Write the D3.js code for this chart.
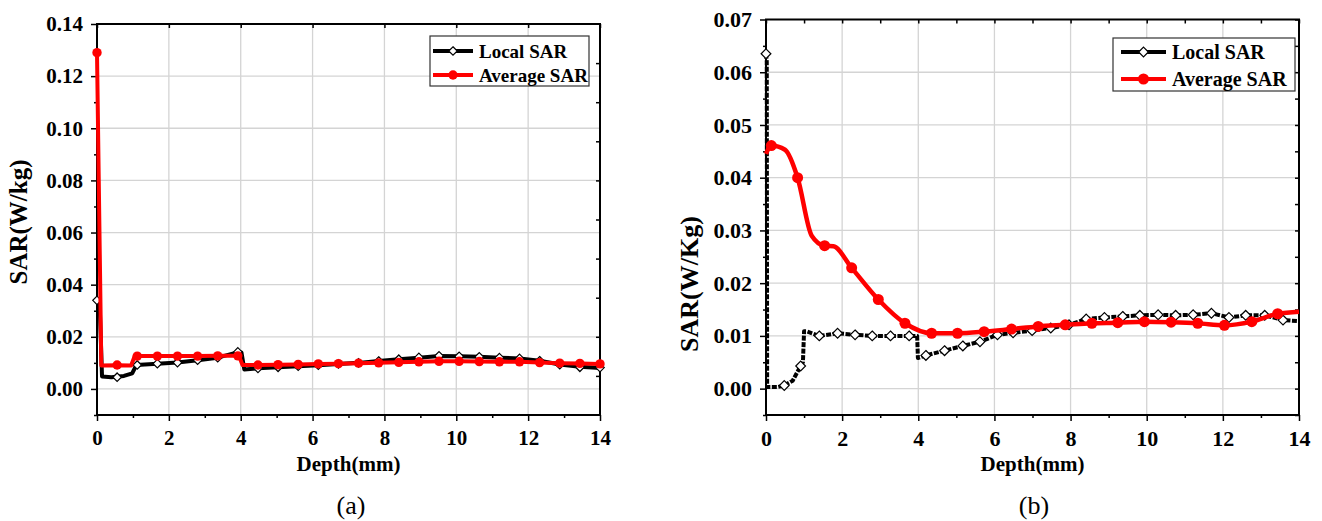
<!DOCTYPE html>
<html>
<head>
<meta charset="utf-8">
<script src="https://cdn.jsdelivr.net/npm/d3@7"></script>
<style>
body { margin: 0; background: #fff; }
text { font-family: "Liberation Serif", "Times New Roman", serif; }
</style>
</head>
<body>
<svg id="chart" width="1322" height="521"></svg>
<script>
'use strict';

/* global d3 */

// ---- data : panel (a) ----
var localDepthA = [0, 0.08, 0.14, 0.4, 0.75, 0.98, 1.1, 1.68, 2.24, 2.80, 3.36, 3.93, 4.02, 4.1, 4.48, 5.04, 5.60, 6.16, 6.72, 7.28, 7.84, 8.40, 8.96, 9.52, 10.08, 10.64, 11.20, 11.76, 12.32, 12.88, 13.44, 14];
var localSarA = [0.034, 0.030, 0.0048, 0.0045, 0.0050, 0.0060, 0.0092, 0.0097, 0.0101, 0.0110, 0.0120, 0.0141, 0.0140, 0.0075, 0.0079, 0.0083, 0.0087, 0.0091, 0.0096, 0.0100, 0.0107, 0.0114, 0.0120, 0.0126, 0.0125, 0.0123, 0.0120, 0.0117, 0.0108, 0.0094, 0.0085, 0.0080];
var localMarkDepthA = [0, 0.56, 1.12, 1.68, 2.24, 2.80, 3.36, 3.92, 4.48, 5.04, 5.60, 6.16, 6.72, 7.28, 7.84, 8.40, 8.96, 9.52, 10.08, 10.64, 11.20, 11.76, 12.32, 12.88, 13.44, 14.0];
var localMarkSarA = [0.034, 0.0045, 0.0092, 0.0097, 0.0101, 0.0110, 0.0120, 0.0142, 0.0079, 0.0083, 0.0087, 0.0091, 0.0096, 0.0100, 0.0107, 0.0114, 0.0121, 0.0127, 0.0125, 0.0123, 0.0120, 0.0117, 0.0108, 0.0093, 0.0083, 0.0082];

var avgDepthA = [0, 0.12, 0.56, 0.95, 1.05, 1.12, 1.68, 2.24, 2.80, 3.36, 3.95, 4.05, 4.48, 5.04, 5.60, 6.16, 6.72, 7.28, 7.84, 8.40, 8.96, 9.52, 10.08, 10.64, 11.20, 11.76, 12.32, 12.88, 13.44, 14];
var avgSarA = [0.129, 0.0090, 0.0091, 0.0090, 0.0126, 0.0126, 0.0126, 0.0126, 0.0126, 0.0127, 0.0127, 0.0092, 0.0092, 0.0093, 0.0094, 0.0096, 0.0097, 0.0099, 0.0100, 0.0102, 0.0104, 0.0106, 0.0106, 0.0105, 0.0104, 0.0104, 0.0101, 0.0099, 0.0098, 0.0096];
var avgMarkDepthA = [0, 0.56, 1.12, 1.68, 2.24, 2.80, 3.36, 3.92, 4.48, 5.04, 5.60, 6.16, 6.72, 7.28, 7.84, 8.40, 8.96, 9.52, 10.08, 10.64, 11.20, 11.76, 12.32, 12.88, 13.44, 14.0];
var avgMarkSarA = [0.129, 0.0092, 0.0126, 0.0126, 0.0126, 0.0126, 0.0127, 0.0127, 0.0092, 0.0093, 0.0094, 0.0096, 0.0097, 0.0099, 0.0100, 0.0102, 0.0104, 0.0106, 0.0106, 0.0105, 0.0104, 0.0104, 0.0101, 0.0099, 0.0098, 0.0096];

// ---- data : panel (b) ----
var localDepthB = [0, 0.02, 0.03, 0.3, 0.48, 0.7, 0.91, 0.97, 1.0, 1.06, 1.40, 1.88, 2.34, 2.79, 3.27, 3.76, 3.97, 3.99, 4.20, 4.69, 5.17, 5.62, 6.08, 6.49, 6.99, 7.48, 7.96, 8.41, 8.89, 9.37, 9.82, 10.30, 10.76, 11.22, 11.70, 12.16, 12.60, 13.10, 13.58, 14];
var localSarB = [0.0635, 0.0620, 0.0003, 0.0003, 0.0006, 0.0015, 0.0043, 0.0050, 0.0109, 0.0109, 0.0100, 0.0105, 0.0102, 0.0100, 0.0100, 0.0100, 0.0100, 0.0058, 0.0063, 0.0072, 0.0081, 0.0089, 0.0102, 0.0106, 0.0110, 0.0115, 0.0121, 0.0132, 0.0135, 0.0137, 0.0139, 0.0140, 0.0139, 0.0140, 0.0143, 0.0135, 0.0139, 0.0139, 0.0130, 0.0128];
var localMarkDepthB = [0, 0.48, 0.91, 1.40, 1.88, 2.34, 2.79, 3.27, 3.76, 4.20, 4.69, 5.17, 5.62, 6.08, 6.49, 6.99, 7.48, 7.96, 8.41, 8.89, 9.37, 9.82, 10.30, 10.76, 11.22, 11.70, 12.16, 12.60, 13.10, 13.58];
var localMarkSarB = [0.0635, 0.0006, 0.0043, 0.0100, 0.0105, 0.0102, 0.0100, 0.0100, 0.0100, 0.0063, 0.0072, 0.0081, 0.0089, 0.0102, 0.0106, 0.0110, 0.0115, 0.0121, 0.0132, 0.0135, 0.0137, 0.0139, 0.0140, 0.0139, 0.0140, 0.0143, 0.0135, 0.0139, 0.0139, 0.0130];

var avgDepthB = [0, 0.14, 0.5, 0.83, 1.2, 1.54, 1.77, 2.25, 2.95, 3.65, 4.35, 5.03, 5.73, 6.45, 7.15, 7.86, 8.56, 9.24, 9.94, 10.64, 11.34, 12.04, 12.76, 13.44, 14];
var avgSarB = [0.0445, 0.0461, 0.0453, 0.0400, 0.0290, 0.0271, 0.0270, 0.0229, 0.0169, 0.0124, 0.0105, 0.0105, 0.0108, 0.0113, 0.0118, 0.0121, 0.0124, 0.0125, 0.0127, 0.0126, 0.0124, 0.0120, 0.0127, 0.0142, 0.0146];
var avgMarkDepthB = [0.14, 0.83, 1.54, 2.25, 2.95, 3.65, 4.35, 5.03, 5.73, 6.45, 7.15, 7.86, 8.56, 9.24, 9.94, 10.64, 11.34, 12.04, 12.76, 13.44];
var avgMarkSarB = [0.0461, 0.0400, 0.0271, 0.0229, 0.0169, 0.0124, 0.0105, 0.0105, 0.0108, 0.0113, 0.0118, 0.0121, 0.0124, 0.0125, 0.0127, 0.0126, 0.0124, 0.0120, 0.0127, 0.0142];

// ---- ticks ----
var xMajor = [0, 2, 4, 6, 8, 10, 12, 14];
var xMinor = [1, 3, 5, 7, 9, 11, 13];
var yMajorA = [0, 0.02, 0.04, 0.06, 0.08, 0.10, 0.12, 0.14];
var yMinorA = [-0.01, 0.01, 0.03, 0.05, 0.07, 0.09, 0.11, 0.13];
var yRightA = [0.005, 0.02, 0.035, 0.05, 0.065, 0.08, 0.095, 0.11, 0.125];
var yMajorB = [0, 0.01, 0.02, 0.03, 0.04, 0.05, 0.06, 0.07];
var yMinorB = [-0.005, 0.005, 0.015, 0.025, 0.035, 0.045, 0.055, 0.065];

var seriesNames = ["Local SAR", "Average SAR"];

var svg = d3.select("#chart");

function zip(xs, ys) {
    return xs.map(function (d, i) { return [d, ys[i]]; });
}

function drawPanel(p) {
    var x = d3.scaleLinear().domain([0, 14]).range([p.left, p.right]);
    var y = d3.scaleLinear().domain(p.yDomain).range([p.bottom, p.top]);
    var g = svg.append("g");

    // grid
    g.selectAll(".vgrid").data(xMajor.slice(1, -1)).enter().append("line")
        .attr("x1", function (d) { return x(d); })
        .attr("x2", function (d) { return x(d); })
        .attr("y1", p.top)
        .attr("y2", p.bottom)
        .attr("stroke", "#d4d4d4")
        .attr("stroke-width", 1.3);
    g.selectAll(".hgrid").data(p.yMajor.slice(0, -1)).enter().append("line")
        .attr("x1", p.left)
        .attr("x2", p.right)
        .attr("y1", function (d) { return y(d); })
        .attr("y2", function (d) { return y(d); })
        .attr("stroke", "#d4d4d4")
        .attr("stroke-width", 1.3);

    // axes
    function styleAxis(sel) {
        sel.select(".domain").remove();
        sel.selectAll("line").attr("stroke", "#000").attr("stroke-width", 1.5);
        sel.selectAll("text")
            .attr("fill", "#000")
            .style("font-size", p.tickFont)
            .style("font-weight", "bold");
    }
    g.append("g").attr("transform", "translate(0," + p.bottom + ")")
        .call(d3.axisBottom(x).tickValues(xMajor).tickSize(6).tickPadding(9).tickFormat(d3.format("d")))
        .call(styleAxis);
    g.append("g").attr("transform", "translate(0," + p.bottom + ")")
        .call(d3.axisBottom(x).tickValues(xMinor).tickSize(3).tickFormat(""))
        .call(styleAxis);
    g.append("g").attr("transform", "translate(" + p.left + ",0)")
        .call(d3.axisLeft(y).tickValues(p.yMajor).tickSize(6).tickPadding(8).tickFormat(d3.format(".2f")))
        .call(styleAxis);
    g.append("g").attr("transform", "translate(" + p.left + ",0)")
        .call(d3.axisLeft(y).tickValues(p.yMinor).tickSize(3).tickFormat(""))
        .call(styleAxis);
    g.append("g").attr("transform", "translate(0," + p.top + ")")
        .call(d3.axisTop(x).tickValues(p.topTicks).tickSize(-4).tickFormat(""))
        .call(styleAxis);
    g.append("g").attr("transform", "translate(" + p.right + ",0)")
        .call(d3.axisRight(y).tickValues(p.rightTicks).tickSize(-4).tickFormat(""))
        .call(styleAxis);

    // frame
    g.append("rect")
        .attr("x", p.left)
        .attr("y", p.top)
        .attr("width", p.right - p.left)
        .attr("height", p.bottom - p.top)
        .attr("fill", "none")
        .attr("stroke", "#000")
        .attr("stroke-width", 2);

    // local SAR (black, diamonds)
    var line = d3.line().x(function (d) { return x(d[0]); }).y(function (d) { return y(d[1]); });
    g.append("path")
        .datum(zip(p.localDepth, p.localSar))
        .attr("d", line)
        .attr("fill", "none")
        .attr("stroke", "#000")
        .attr("stroke-width", p.localWidth)
        .attr("stroke-dasharray", p.localDash)
        .attr("stroke-linejoin", "round");
    var diamond = d3.symbol().type(d3.symbolDiamond2).size(2 * p.dia * p.dia);
    g.selectAll(".dia").data(zip(p.localMarkDepth, p.localMarkSar)).enter().append("path")
        .attr("d", diamond)
        .attr("transform", function (d) { return "translate(" + x(d[0]) + "," + y(d[1]) + ")"; })
        .attr("fill", "#fff")
        .attr("stroke", "#000")
        .attr("stroke-width", 1.2);

    // average SAR (red, circles)
    var avgLine = d3.line().curve(p.avgCurve)
        .x(function (d) { return x(d[0]); }).y(function (d) { return y(d[1]); });
    g.append("path")
        .datum(zip(p.avgDepth, p.avgSar))
        .attr("d", avgLine)
        .attr("fill", "none")
        .attr("stroke", "#ff0000")
        .attr("stroke-width", p.avgWidth)
        .attr("stroke-linejoin", "round");
    g.selectAll(".dot").data(zip(p.avgMarkDepth, p.avgMarkSar)).enter().append("circle")
        .attr("cx", function (d) { return x(d[0]); })
        .attr("cy", function (d) { return y(d[1]); })
        .attr("r", p.dot)
        .attr("fill", "#ff0000");

    // axis titles
    g.append("text")
        .attr("x", (p.left + p.right) / 2)
        .attr("y", p.bottom + 56)
        .attr("text-anchor", "middle")
        .style("font-size", "21px")
        .style("font-weight", "bold")
        .text("Depth(mm)");
    g.append("text")
        .attr("transform", "translate(" + p.yTitleX + "," + p.yTitleY + ") rotate(-90)")
        .attr("text-anchor", "middle")
        .style("font-size", p.yTitleFont)
        .style("font-weight", "bold")
        .text(p.yTitle);

    // caption
    g.append("text")
        .attr("x", p.captionX)
        .attr("y", 514)
        .attr("text-anchor", "middle")
        .style("font-size", "26px")
        .text(p.caption);

    // legend
    var lg = g.append("g").attr("transform", "translate(" + p.legend[0] + "," + p.legend[1] + ")");
    lg.append("rect")
        .attr("width", p.legend[2])
        .attr("height", p.legend[3])
        .attr("fill", "#fff")
        .attr("stroke", "#333")
        .attr("stroke-width", 1.2);
    seriesNames.forEach(function (name, i) {
        var cy = p.legendRow[i];
        lg.append("line")
            .attr("x1", p.legendLine[0]).attr("x2", p.legendLine[1])
            .attr("y1", cy).attr("y2", cy)
            .attr("stroke", i === 0 ? "#000" : "#ff0000")
            .attr("stroke-width", 4);
        var mx = (p.legendLine[0] + p.legendLine[1]) / 2;
        if (i === 0) {
            lg.append("path")
                .attr("d", diamond)
                .attr("transform", "translate(" + mx + "," + cy + ")")
                .attr("fill", "#fff")
                .attr("stroke", "#000")
                .attr("stroke-width", 1.2);
        } else {
            lg.append("circle").attr("cx", mx).attr("cy", cy).attr("r", p.dot).attr("fill", "#ff0000");
        }
        lg.append("text")
            .attr("x", p.legendLine[1] + 6)
            .attr("y", cy + 7)
            .style("font-size", p.legendFont)
            .style("font-weight", "bold")
            .text(name);
    });
}

drawPanel({
    left: 97, right: 600, top: 24, bottom: 415,
    yDomain: [-0.01, 0.14], yMajor: yMajorA, yMinor: yMinorA,
    topTicks: xMajor, rightTicks: yRightA,
    localDepth: localDepthA, localSar: localSarA,
    localMarkDepth: localMarkDepthA, localMarkSar: localMarkSarA,
    avgDepth: avgDepthA, avgSar: avgSarA,
    avgMarkDepth: avgMarkDepthA, avgMarkSar: avgMarkSarA,
    avgCurve: d3.curveLinear,
    localWidth: 4, localDash: null, avgWidth: 4, dia: 4.8, dot: 4.7,
    tickFont: "21px",
    yTitle: "SAR(W/kg)", yTitleX: 27, yTitleY: 222, yTitleFont: "25px",
    caption: "(a)", captionX: 351,
    legend: [430, 36, 159, 50], legendRow: [15, 39], legendLine: [3, 43], legendFont: "19px"
});

drawPanel({
    left: 766, right: 1299, top: 19.5, bottom: 415,
    yDomain: [-0.005, 0.07], yMajor: yMajorB, yMinor: yMinorB,
    topTicks: xMajor.concat(xMinor), rightTicks: yMajorB.concat(yMinorB),
    localDepth: localDepthB, localSar: localSarB,
    localMarkDepth: localMarkDepthB, localMarkSar: localMarkSarB,
    avgDepth: avgDepthB, avgSar: avgSarB,
    avgMarkDepth: avgMarkDepthB, avgMarkSar: avgMarkSarB,
    avgCurve: d3.curveMonotoneX,
    localWidth: 4, localDash: "5,1.5", avgWidth: 4.5, dia: 5.5, dot: 5.5,
    tickFont: "22px",
    yTitle: "SAR(W/Kg)", yTitleX: 698, yTitleY: 284, yTitleFont: "26px",
    caption: "(b)", captionX: 1034,
    legend: [1113, 38, 182, 53], legendRow: [14, 41], legendLine: [8, 53], legendFont: "20px"
});
</script>
</body>
</html>
